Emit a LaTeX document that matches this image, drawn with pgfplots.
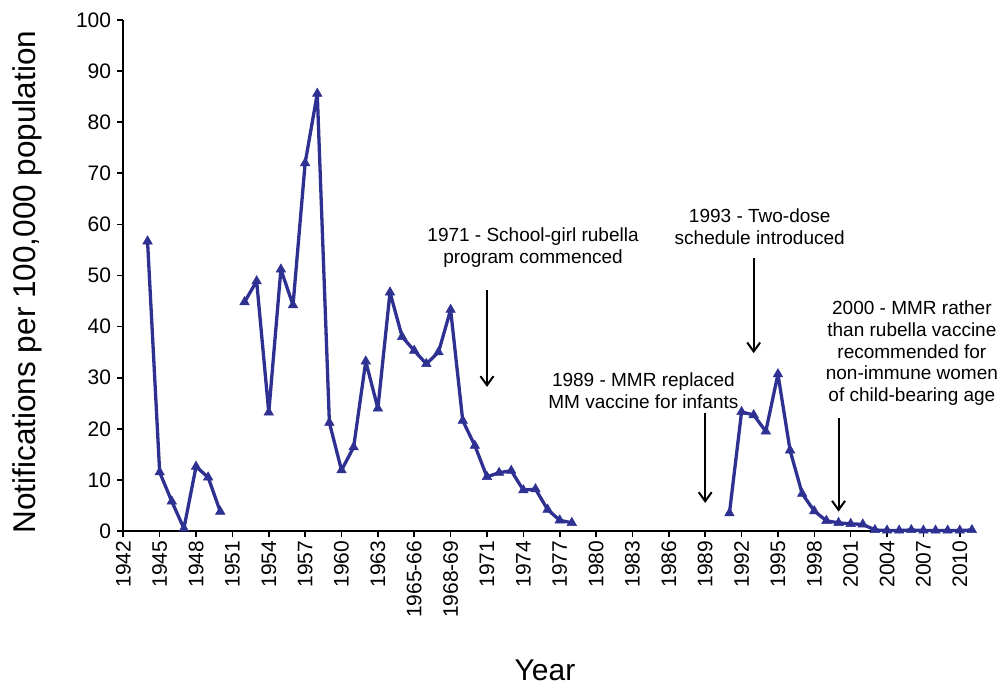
\documentclass[border=0pt]{standalone}
\usepackage{pgfplots}
\pgfplotsset{compat=1.18}
\usepackage{fontspec}
\setmainfont{Liberation Sans}
\usetikzlibrary{arrows.meta}
\definecolor{lineblue}{RGB}{46,49,146}
\pgfplotstableread{
idx val
2 56.7
3 11.5
4 5.8
5 0.5
6 12.6
7 10.5
8 3.8
9 nan
10 44.8
11 48.9
12 23.2
13 51.2
14 44.2
15 72.0
16 85.6
17 21.2
18 11.9
19 16.4
20 33.2
21 24.0
22 46.7
23 38.0
24 35.3
25 32.7
26 35.0
27 43.3
28 21.6
29 16.7
30 10.6
31 11.4
32 11.8
33 8.0
34 8.2
35 4.2
36 2.1
37 1.6
38 nan
50 3.5
51 23.3
52 22.7
53 19.5
54 30.7
55 15.8
56 7.3
57 3.9
58 2.0
59 1.6
60 1.4
61 1.3
62 0.2
63 0.1
64 0.1
65 0.2
66 0.1
67 0.1
68 0.1
69 0.1
70 0.2
}\rubella
\begin{document}
\begin{tikzpicture}
\begin{axis}[
  scale only axis,
  width=848.6bp, height=511bp,
  xmin=0, xmax=70, ymin=0, ymax=100,
  clip=false,
  axis x line*=bottom, axis y line*=left,
  axis line style={-, line width=1.6bp, black},
  tick style={line width=1.6bp, black},
  tick align=outside,
  major tick length=6bp,
  xtick={0,3,...,69},
  xticklabels={1942,1945,1948,1951,1954,1957,1960,1963,1965-66,1968-69,1971,1974,1977,1980,1983,1986,1989,1992,1995,1998,2001,2004,2007,2010},
  ytick={0,10,...,100},
  /pgf/number format/assume math mode=true,
  ticklabel style={font=\fontsize{21bp}{24bp}\selectfont},
  xticklabel style={rotate=90, anchor=east, inner sep=3.5bp},
  yticklabel style={inner sep=6bp},
  unbounded coords=jump,
]
\addplot[color=lineblue, line width=3.3bp, line join=round, mark=triangle*, mark size=5.5bp,
  mark options={solid, fill=lineblue, line width=0.5bp, line join=miter}] table[x=idx, y=val] {\rubella};
\coordinate (ll) at (rel axis cs:0,0);
\begin{scope}[every node/.style={font=\fontsize{19bp}{21.7bp}\selectfont, align=center, inner sep=0pt}]
\node at (axis cs:33.8,55.4) {1971 - School-girl rubella\\program commenced};
\node at (axis cs:52.5,59.5) {1993 - Two-dose\\schedule introduced};
\node at (axis cs:42.9,27.4) {1989 - MMR replaced\\MM vaccine for infants};
\node at (axis cs:65.05,34.8) {2000 - MMR rather\\than rubella vaccine\\recommended for\\non-immune women\\of child-bearing age};
\end{scope}
\begin{scope}[line width=2bp, -{Straight Barb[length=9bp,width=13bp,line width=2bp]}]
\draw (axis cs:30,47.2) -- (axis cs:30,28.2);
\draw (axis cs:52,53.4) -- (axis cs:52,34.8);
\draw (axis cs:48,23.1) -- (axis cs:48,5.5);
\draw (axis cs:59,22.1) -- (axis cs:59,3.8);
\end{scope}
\end{axis}
\node[rotate=90, font=\fontsize{31.5bp}{36bp}\selectfont, inner sep=0pt] at ([xshift=-96bp,yshift=249bp]ll) {Notifications per 100,000 population};
\node[font=\fontsize{30bp}{36bp}\selectfont, inner sep=0pt] at ([xshift=421.7bp,yshift=-139bp]ll) {Year};
\pgfresetboundingbox
\path[use as bounding box] ([xshift=-123.3bp,yshift=-157bp]ll) rectangle ([xshift=881.7bp,yshift=531bp]ll);
\end{tikzpicture}
\end{document}
